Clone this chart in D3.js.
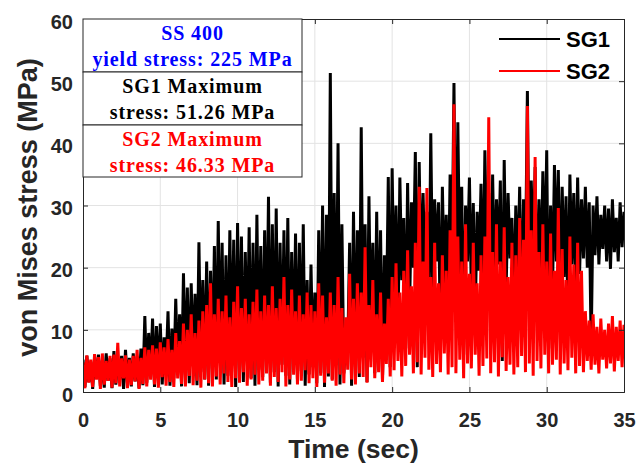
<!DOCTYPE html>
<html>
<head>
  <meta charset="utf-8">
  <title>von Mises stress</title>
  <script src="https://cdn.jsdelivr.net/npm/d3@7"></script>
  <style>
    body { margin: 0; background: #fff; }
  </style>
</head>
<body>
  <script>
    // sample step: peaks at t = k*0.25, troughs at t = k*0.25 + 0.125
    const step = 0.25;

    // SG1 peaks (141 values, t = 0 .. 35)
    const sg1Hi = [
      5.2, 5.8, 4.9, 5.6,  6.0, 5.1, 6.2, 5.4,  6.6, 5.3, 5.8, 6.8,  5.5, 6.2, 5.7, 7.0,
      12.2, 9.5, 11.8, 10.6,  11.0, 8.8, 13.0, 10.2,  15.0, 12.5, 19.1, 16.8,  17.5, 15.8, 24.1, 18.0,
      21.0, 19.5, 23.5, 27.5,  24.0, 22.0, 26.0, 24.5,  27.2, 25.0, 22.5, 26.5,  24.0, 28.5, 23.5, 26.0,
      31.4, 27.0, 29.5, 24.0,  26.0, 28.0, 22.5, 25.5,  24.0, 27.0, 18.0, 20.5,  16.0, 26.0, 30.0, 28.5,
      51.3, 32.0, 40.0, 27.0,  9.0, 24.0, 29.0, 26.0,  42.6, 27.0, 31.5, 24.0,  29.0, 26.0, 22.0, 34.6,
      36.0, 30.0, 34.5, 28.0,  33.6, 30.5, 38.6, 37.0,  32.0, 29.0, 41.6, 31.0,  30.5, 33.0, 28.5, 35.0,
      49.7, 43.4, 33.0, 30.0,  34.5, 30.4, 29.0, 33.5,  38.9, 32.0, 35.0, 31.0,  34.0, 37.3, 32.0, 28.0,
      30.0, 33.0, 31.0, 48.4,  34.0, 36.2, 31.0, 35.5,  38.9, 30.0, 36.5, 35.7,  33.0, 31.5, 35.0, 32.0,
      34.5, 31.0, 33.0, 30.5,  30.0, 31.5, 28.5, 30.0,  29.5, 31.0, 28.0, 30.5,  29.0
    ];
    // SG1 troughs (140 values)
    const sg1Lo = [
      0.8, 1.6, 0.5, 2.2, 1.0, 0.7, 1.8, 0.6, 1.2, 2.0, 0.5, 1.4, 0.9, 1.7, 0.6, 1.1,
      1.5, 3.0, 0.8, 2.5, 1.2, 4.0, 1.0, 2.2, 3.5, 0.9, 2.8, 1.4, 4.5, 1.1, 3.2, 2.0,
      1.0, 3.8, 2.0, 5.0, 1.2, 2.6, 4.2, 0.8, 3.0, 1.6, 5.5, 2.2, 1.0, 3.6, 2.4, 4.8,
      1.5, 3.2, 0.9, 4.4, 2.6, 1.2, 5.0, 2.0, 3.4, 1.0, 2.8, 4.0, 1.4, 3.0, 0.8, 2.5,
      2.0, 4.5, 1.2, 3.0, 6.5, 1.0, 4.0, 2.4, 5.5, 1.6, 8.0, 3.0, 6.0, 2.0, 10.5, 4.0,
      14.0, 9.0, 18.0, 7.0, 13.0, 20.0, 4.0, 16.0, 19.0, 11.0, 15.0, 21.0, 8.0, 17.5, 13.0, 20.0,
      15.0, 18.5, 6.0, 21.0, 16.0, 12.0, 19.5, 14.0, 22.0, 10.5, 17.0, 20.5, 5.0, 16.5, 21.5, 13.0,
      18.0, 11.5, 20.0, 15.5, 22.0, 12.0, 17.5, 19.0, 7.0, 16.0, 21.0, 14.5, 18.5, 11.0, 20.5, 16.0,
      19.0, 21.5, 20.0, 7.2, 22.0, 20.5, 23.0, 21.0, 19.8, 22.5, 21.0, 23.3
    ];

    // SG2 peaks (141 values)
    const sg2Hi = [
      4.8, 5.9, 5.2, 6.1,  5.6, 6.2, 5.0, 5.8,  6.0, 7.9, 5.4, 5.9,  5.2, 5.8, 6.8, 5.5,
      7.2, 6.8, 7.5, 7.0,  8.0, 7.2, 8.5, 6.8,  9.5, 8.2, 11.0, 10.0,  12.5, 9.5, 11.5, 13.0,
      14.0, 17.5, 12.5, 15.0,  13.0, 15.5, 12.0, 14.5,  17.0, 13.5, 15.0, 12.5,  14.5, 16.5, 13.0, 15.5,
      14.0, 17.0, 13.5, 15.0,  18.5, 14.0, 16.5, 13.0,  15.5, 12.5, 16.0, 14.0,  13.0, 17.5, 15.5, 12.0,
      16.0, 14.0, 18.5, 13.5,  12.0, 19.0, 15.0, 17.5,  16.0, 23.3, 14.0, 18.0,  12.5, 16.0, 11.0, 15.0,
      18.5, 20.7, 16.0, 19.5,  22.8, 17.0, 24.0, 33.0,  21.0, 32.8, 18.5, 24.0,  17.5, 22.0, 19.5, 26.0,
      46.3, 25.0, 21.0, 27.0,  19.0, 24.0, 17.5, 22.0,  25.0, 44.2, 22.5, 27.0,  21.0, 26.5, 18.5, 24.0,
      22.0, 28.0, 24.5, 46.0,  26.0, 37.8, 22.5, 27.0,  21.0, 25.5, 19.5, 29.6,  23.0, 18.0, 25.0, 20.5,
      24.0, 19.5, 13.0, 11.5,  12.5, 10.5, 11.8, 10.0,  11.0, 12.2, 10.5, 11.5,  10.8
    ];
    // SG2 troughs (140 values)
    const sg2Lo = [
      0.6, 1.5, 0.8, 2.0, 0.5, 1.2, 1.8, 0.7, 1.4, 0.9, 2.2, 0.6, 1.1, 1.7, 0.5, 1.3,
      0.9, 2.0, 1.2, 0.7, 2.4, 1.0, 1.6, 0.8, 2.2, 1.3, 0.9, 2.6, 1.1, 1.8, 0.7, 2.0,
      1.4, 0.9, 2.5, 1.2, 3.0, 1.6, 0.8, 2.2, 1.5, 3.2, 1.0, 2.0, 2.8, 1.2, 1.8, 3.0,
      1.0, 2.4, 1.6, 3.2, 0.9, 2.0, 2.8, 1.2, 1.8, 3.5, 1.4, 2.2, 0.8, 2.6, 1.5, 3.0,
      1.8, 1.0, 2.8, 1.4, 3.6, 2.0, 1.2, 3.0, 2.4, 1.5, 4.0, 2.2, 3.2, 1.6, 4.5, 2.5,
      3.5, 5.0, 2.5, 4.2, 6.0, 3.0, 4.8, 2.8, 5.5, 3.6, 2.4, 4.5, 3.2, 6.2, 2.8, 4.0,
      3.0, 5.2, 2.2, 4.6, 3.8, 6.0, 2.6, 4.2, 5.4, 3.0, 4.8, 2.5, 5.6, 3.4, 4.4, 2.8,
      4.0, 5.8, 3.2, 4.6, 2.6, 5.0, 3.8, 6.0, 3.0, 4.4, 5.2, 2.8, 4.6, 3.5, 5.5, 3.0,
      4.2, 3.2, 5.0, 3.6, 4.4, 3.0, 5.2, 3.8, 4.6, 3.3, 5.0, 4.0
    ];

    const xTicks = [0, 5, 10, 15, 20, 25, 30, 35];
    const yTicks = [0, 10, 20, 30, 40, 50, 60];

    const legendNames = ["SG1", "SG2"];
    const seriesColors = ["#000000", "#ff0000"];

    const infoRows = [
      { lines: ["SS 400", "yield stress: 225 MPa"], color: "#0000ff" },
      { lines: ["SG1 Maximum", "stress: 51.26 MPa"], color: "#000000" },
      { lines: ["SG2 Maximum", "stress: 46.33 MPa"], color: "#ff0000" }
    ];

    // interleave peaks and troughs into one time series
    function buildSeries(hi, lo) {
      const pts = [];
      for (let k = 0; k < hi.length; k++) {
        pts.push([k * step, hi[k]]);
        if (k < lo.length) pts.push([k * step + step / 2, lo[k]]);
      }
      return pts;
    }
    const sg1 = buildSeries(sg1Hi, sg1Lo);
    const sg2 = buildSeries(sg2Hi, sg2Lo);

    const W = 638, H = 468;
    const margin = { top: 19, right: 14, bottom: 76, left: 83 };
    const w = W - margin.left - margin.right;
    const h = H - margin.top - margin.bottom;

    const x = d3.scaleLinear().domain([0, 35]).range([0, w]);
    const y = d3.scaleLinear().domain([0, 60]).range([h, 0]);

    const svg = d3.select("body").append("svg")
      .attr("width", W)
      .attr("height", H);

    const g = svg.append("g")
      .attr("transform", `translate(${margin.left},${margin.top})`);

    // grid
    g.append("g").selectAll("line")
      .data(xTicks.slice(1, -1))
      .enter().append("line")
      .attr("x1", d => x(d)).attr("x2", d => x(d))
      .attr("y1", 0).attr("y2", h)
      .attr("stroke", "#e3e3e3").attr("stroke-width", 1);
    g.append("g").selectAll("line")
      .data(yTicks.slice(1, -1))
      .enter().append("line")
      .attr("y1", d => y(d)).attr("y2", d => y(d))
      .attr("x1", 0).attr("x2", w)
      .attr("stroke", "#e3e3e3").attr("stroke-width", 1);

    g.append("clipPath").attr("id", "plotclip")
      .append("rect").attr("width", w).attr("height", h);

    const line = d3.line().x(d => x(d[0])).y(d => y(d[1]));

    g.append("g").attr("clip-path", "url(#plotclip)")
      .selectAll("path")
      .data([sg1, sg2])
      .enter().append("path")
      .attr("d", line)
      .attr("fill", "none")
      .attr("stroke", (d, i) => seriesColors[i])
      .attr("stroke-width", 3)
      .attr("stroke-linejoin", "bevel");

    // axes (ticks inward, box all round)
    const axisColor = "#262626";
    const tickFont = "bold 20px 'Liberation Sans', Arial, sans-serif";

    const xAxis = g.append("g").attr("transform", `translate(0,${h})`)
      .call(d3.axisBottom(x).tickValues(xTicks).tickSize(-5).tickPadding(21));
    const xTop = g.append("g")
      .call(d3.axisTop(x).tickValues(xTicks).tickSize(-5).tickFormat(""));
    const yAxis = g.append("g")
      .call(d3.axisLeft(y).tickValues(yTicks).tickSize(-5).tickPadding(10));
    const yRight = g.append("g").attr("transform", `translate(${w},0)`)
      .call(d3.axisRight(y).tickValues(yTicks).tickSize(-5).tickFormat(""));

    [xAxis, xTop, yAxis, yRight].forEach(a => {
      a.select(".domain").attr("stroke", axisColor).attr("stroke-width", 1);
      a.selectAll(".tick line").attr("stroke", axisColor);
      a.selectAll("text").style("font", tickFont).attr("fill", axisColor);
    });
    yAxis.selectAll("text").attr("dy", "0.45em");

    // axis labels
    svg.append("text")
      .attr("x", margin.left + w / 2).attr("y", 458)
      .attr("text-anchor", "middle")
      .style("font", "bold 26.5px 'Liberation Sans', Arial, sans-serif")
      .attr("fill", axisColor)
      .text("Time (sec)");

    svg.append("text")
      .attr("transform", `translate(37,${margin.top + h / 2 + 2}) rotate(-90)`)
      .attr("text-anchor", "middle")
      .style("font", "bold 27px 'Liberation Sans', Arial, sans-serif")
      .attr("fill", axisColor)
      .text("von Mises stress (MPa)");

    // info box
    const boxW = 219, rowH = [53, 53, 52];
    let rowTop = 0;
    infoRows.forEach((r, i) => {
      const rg = g.append("g").attr("transform", `translate(0,${rowTop})`);
      rg.append("rect")
        .attr("width", boxW).attr("height", rowH[i])
        .attr("fill", "#fff").attr("stroke", axisColor).attr("stroke-width", 1);
      r.lines.forEach((t, j) => {
        rg.append("text")
          .attr("x", boxW / 2).attr("y", 21 + j * 26)
          .attr("text-anchor", "middle")
          .style("font", "bold 20px 'Liberation Serif', 'Times New Roman', serif")
          .style("letter-spacing", "0.9px")
          .attr("fill", r.color)
          .text(t);
      });
      rowTop += rowH[i];
    });

    // legend
    const lg = g.append("g").attr("transform", `translate(${w - 125},20)`);
    legendNames.forEach((n, i) => {
      lg.append("line")
        .attr("x1", 0).attr("x2", 61)
        .attr("y1", i * 32).attr("y2", i * 32)
        .attr("stroke", seriesColors[i]).attr("stroke-width", 2);
      lg.append("text")
        .attr("x", 67).attr("y", i * 32 + 8)
        .style("font", "bold 22px 'Liberation Sans', Arial, sans-serif")
        .attr("fill", "#000")
        .text(n);
    });
  </script>
</body>
</html>
